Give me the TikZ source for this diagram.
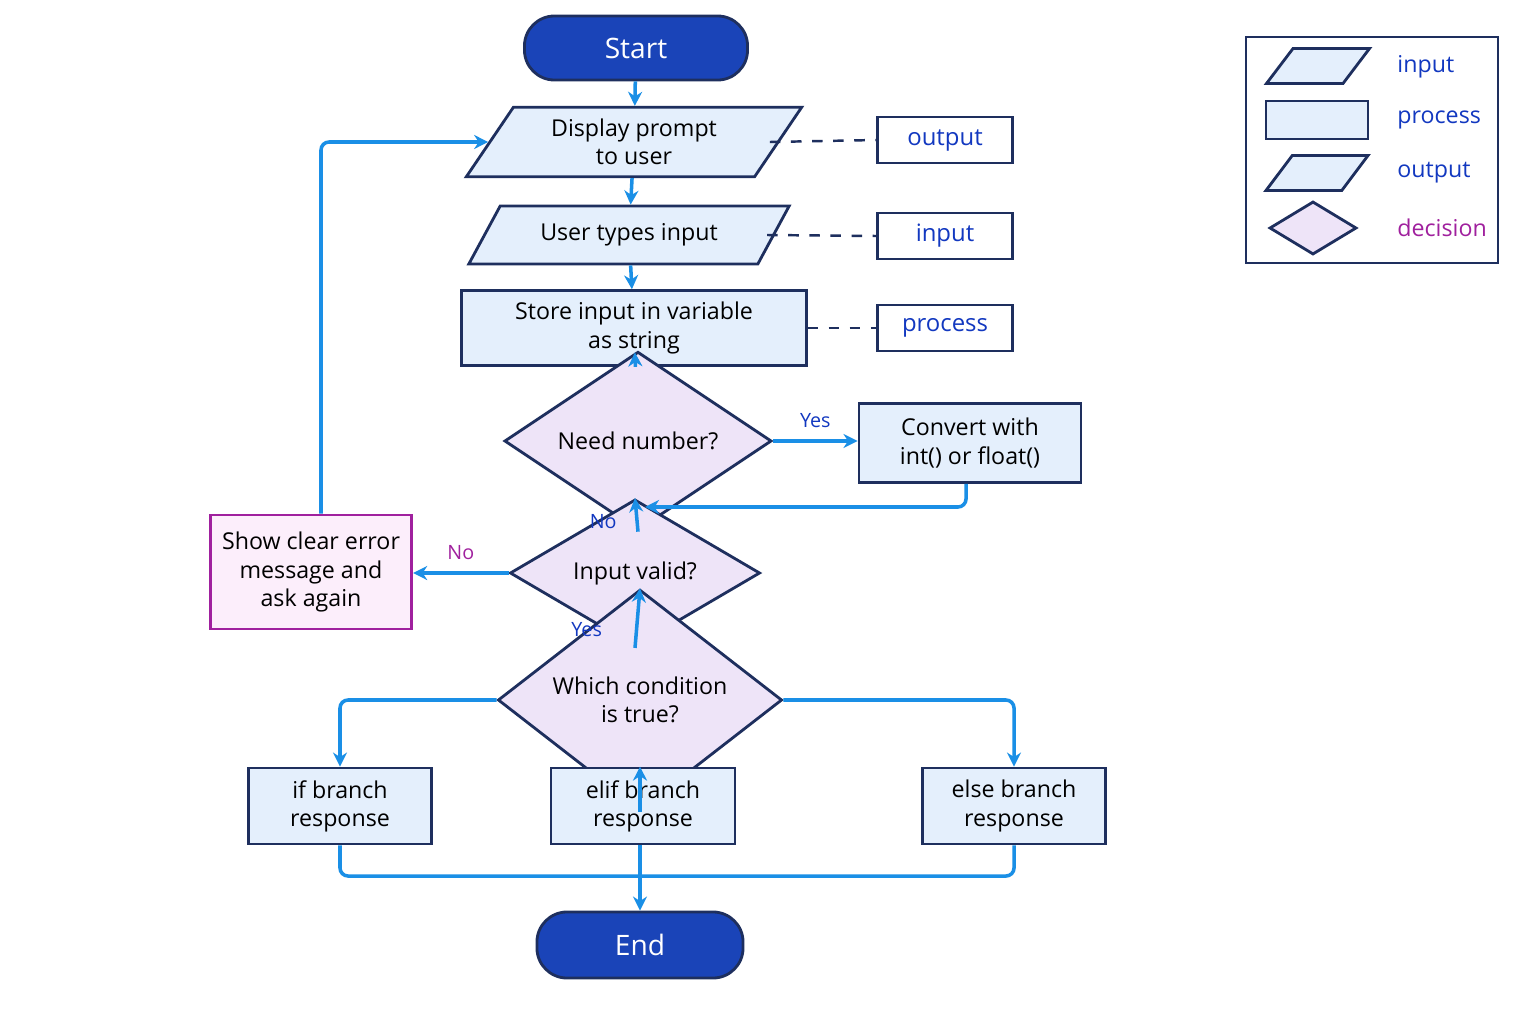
\documentclass[tikz,border=0pt]{standalone}
\usepackage{fontspec}
\setmainfont{Open Sans}
\usetikzlibrary{shapes.geometric,arrows.meta}
\definecolor{navy}{HTML}{1E2F5E}
\definecolor{boxfill}{HTML}{E4EFFC}
\definecolor{decfill}{HTML}{EEE4F8}
\definecolor{errfill}{HTML}{FCEEFB}
\definecolor{errline}{HTML}{A0209E}
\definecolor{flow}{HTML}{1A8FE6}
\definecolor{labblue}{HTML}{1238C0}
\definecolor{termfill}{HTML}{1A44B8}
\tikzset{
  procbox/.style={rectangle, draw=navy, fill=boxfill, line width=0.8pt, align=center, font=\fontsize{6.6}{8}\selectfont},
  iobox/.style={trapezium, trapezium left angle=62, trapezium right angle=118, trapezium stretches=true, draw=navy, fill=boxfill, line width=0.8pt, align=center, font=\fontsize{6.6}{8}\selectfont},
  decbox/.style={diamond, draw=navy, fill=decfill, line width=0.8pt, inner sep=0pt, align=center, font=\fontsize{6.6}{8}\selectfont},
  termbox/.style={rectangle, rounded corners=0.3cm, draw=navy, fill=termfill, line width=0.8pt, text=white, font=\fontsize{8}{9}\selectfont},
  tagbox/.style={rectangle, draw=navy, fill=white, line width=0.6pt, text=labblue, minimum width=1.35cm, minimum height=0.46cm, font=\fontsize{6.8}{8}\selectfont},
  flowline/.style={draw=flow, line width=1pt, rounded corners=0.08cm},
  flowarrow/.style={flowline, -{Stealth[length=4pt,width=4pt]}},
  dashline/.style={draw=navy, dashed, line width=0.7pt},
  branchlabel/.style={text=labblue, font=\fontsize{5.6}{7}\selectfont},
  legendtext/.style={anchor=west, text=labblue, font=\fontsize{6.6}{8}\selectfont}
}
\begin{document}
\begin{tikzpicture}[x=0.01cm, y=-0.01cm]
	\useasboundingbox[fill=white] (0,0) rectangle (1536,1024);

	% main flow
	\node[termbox, minimum width=2.23cm, minimum height=0.64cm](start) at (636,48){Start};
	\node[iobox, minimum width=3.37cm, minimum height=0.68cm](prompt) at (634,142){Display prompt\\to user};
	\node[iobox, minimum width=3.22cm, minimum height=0.58cm](userin) at (629,235){User types input};
	\node[procbox, minimum width=3.44cm, minimum height=0.72cm](store) at (634,328){Store input in variable\\as string};
	\node[decbox, minimum width=2.67cm, minimum height=0.98cm](neednum) at (638,441){Need number?};
	\node[procbox, minimum width=2.22cm, minimum height=0.79cm](convert) at (970,443){Convert with\\int() or float()};
	\node[decbox, minimum width=2.5cm, minimum height=0.95cm](valid) at (635,573){Input valid?};
	\node[procbox, draw=errline, fill=errfill, minimum width=1.96cm, minimum height=1.14cm](error) at (311,572){Show clear error\\message and\\ask again};
	\node[decbox, minimum width=2.84cm, minimum height=0.98cm](which) at (640,700){Which condition\\is true?};
	\node[procbox, minimum width=1.83cm, minimum height=0.76cm](ifb) at (340,806){if branch\\response};
	\node[procbox, minimum width=1.84cm, minimum height=0.76cm](elifb) at (643,806){elif branch\\response};
	\node[procbox, minimum width=1.83cm, minimum height=0.76cm](elseb) at (1014,806){else branch\\response};
	\node[termbox, minimum width=2.06cm, minimum height=0.66cm](end) at (640,945){End};

	% tags
	\node[tagbox](tagout) at (945,140){output};
	\node[tagbox](tagin) at (945,236){input};
	\node[tagbox](tagproc) at (945,328){process};
	\draw[dashline] (prompt.east) ++(-10,0) coordinate(pe) (pe) -- (tagout.west);
	\draw[dashline] (userin.east) ++(-8,0) coordinate(ue) (ue) -- (tagin.west);
	\draw[dashline] (store.east) -- (tagproc.west);

	% connectors
	\draw[flowarrow] (start) -- (prompt);
	\draw[flowarrow] (prompt) -- (userin);
	\draw[flowarrow] (userin) -- (store);
	\draw[flowarrow] (store) -- (neednum);
	\draw[flowarrow] (neednum.east) -- node[branchlabel, above]{Yes} (convert.west |- neednum.east);
	\draw[flowarrow] (neednum.south) -- node[branchlabel, pos=0.3, left=2pt]{No} (valid.north);
	\coordinate(merge) at (645,507);
	\draw[flowarrow] (convert.south -| 966,0) |- (merge);
	\draw[flowarrow] (valid.west) -- node[branchlabel, above, text=errline]{No} (error.east |- valid.west);
	\draw[flowarrow] (error.north -| 321,0) |- (prompt.west);
	\draw[flowarrow] (valid.south) -- node[branchlabel, pos=0.3, left=6pt]{Yes} (which.north);
	\draw[flowarrow] (which.west) -| (ifb.north);
	\draw[flowarrow] (which.east) -| (elseb.north);
	\draw[flowarrow] (which.south) -- (elifb.north -| which.south);
	\draw[flowline] (ifb.south) |- (640,876) -| (elseb.south);
	\draw[flowarrow] (elifb.south -| end.north) -- (end.north);

	% legend
	\node[rectangle, draw=navy, line width=0.6pt, minimum width=2.51cm, minimum height=2.25cm](legend) at (1372,150){};
	\node[iobox, minimum width=1.03cm, minimum height=0.35cm](legin) at (1318,66){};
	\node[procbox, minimum width=1.02cm, minimum height=0.38cm](legproc) at (1317,120){};
	\node[iobox, minimum width=1.02cm, minimum height=0.35cm](legout) at (1317,173){};
	\node[decbox, minimum width=0.87cm, minimum height=0.53cm](legdec) at (1313,228){};
	\node[legendtext](legintext) at (1385,67){input};
	\node[legendtext](legproctext) at (1385,120){process};
	\node[legendtext](legouttext) at (1385,173){output};
	\node[legendtext, text=errline](legdectext) at (1385,228){decision};
\end{tikzpicture}
\end{document}
